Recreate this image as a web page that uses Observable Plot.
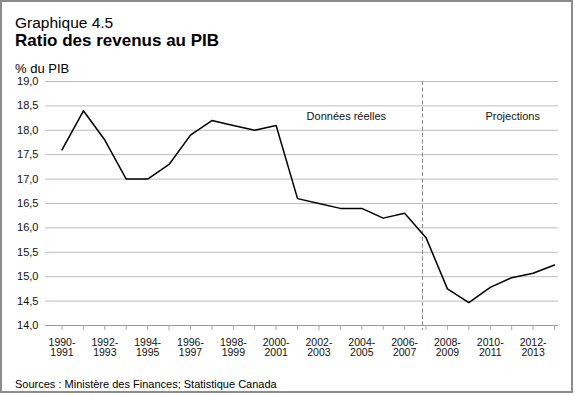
<!DOCTYPE html>
<html>
<head>
<meta charset="utf-8">
<script src="https://cdn.jsdelivr.net/npm/d3@7"></script>
<script src="https://cdn.jsdelivr.net/npm/@observablehq/plot@0.6"></script>
<style>
  html, body { margin: 0; padding: 0; background: #fff; }
  body { position: relative; width: 575px; height: 395px; overflow: hidden;
         font-family: "Liberation Sans", Arial, Helvetica, sans-serif; color: #000; }
  #frame { position: absolute; left: 0; top: 0; width: 573px; height: 393px;
           box-sizing: border-box; border: 2px solid #8c8c8c; }
  .t { position: absolute; white-space: nowrap; line-height: 1; }
  #chart { position: absolute; left: 0; top: 0; }
</style>
</head>
<body>
<div id="frame"></div>
<div class="t" id="kicker" style="left:15px; top:14.6px; font-size:15.5px;">Graphique 4.5</div>
<div class="t" id="title" style="left:15px; top:32.3px; font-size:17px; font-weight:bold;">Ratio des revenus au PIB</div>
<div class="t" id="unit" style="left:15px; top:61.7px; font-size:13px;">% du PIB</div>
<div class="t" id="source" style="left:15px; top:379px; font-size:11px;">Sources : Ministère des Finances; Statistique Canada</div>
<div id="chart"></div>
<script>
const categories = [
  "1990-1991", "1991-1992", "1992-1993", "1993-1994", "1994-1995", "1995-1996",
  "1996-1997", "1997-1998", "1998-1999", "1999-2000", "2000-2001", "2001-2002",
  "2002-2003", "2003-2004", "2004-2005", "2005-2006", "2006-2007", "2007-2008",
  "2008-2009", "2009-2010", "2010-2011", "2011-2012", "2012-2013", "2013-2014"
];
const values = [
  17.6, 18.4, 17.8, 17.0, 17.0, 17.3, 17.9, 18.2, 18.1, 18.0, 18.1, 16.6,
  16.5, 16.4, 16.4, 16.2, 16.3, 15.8, 14.75, 14.47, 14.78, 14.98, 15.07, 15.24
];
const yTicks = [14.0, 14.5, 15.0, 15.5, 16.0, 16.5, 17.0, 17.5, 18.0, 18.5, 19.0];
const labeledCategories = categories.filter((d, i) => i % 2 === 0);
const splitCategory = "2007-2008";
const annotationTexts = ["Données réelles", "Projections"];
const annotationCategories = ["2003-2004", "2011-2012"];
const annotationValues = [18.28, 18.28];

const data = categories.map((c, i) => ({category: c, value: values[i]}));
const annotations = annotationTexts.map((t, i) => ({text: t, category: annotationCategories[i], value: annotationValues[i]}));
const fmtY = d => d.toFixed(1).replace(".", ",");

const chart = Plot.plot({
  width: 575,
  height: 370,
  marginLeft: 45,
  marginRight: 17,
  marginTop: 81,
  marginBottom: 45,
  style: {fontFamily: '"Liberation Sans", Arial, Helvetica, sans-serif', background: "transparent", color: "#000", overflow: "visible"},
  x: {type: "point", domain: categories, range: [61.5, 554], padding: 0, round: false},
  y: {domain: [14, 19]},
  marks: [
    Plot.gridY(yTicks.filter(d => d > 14), {stroke: "#bdbdbd", strokeOpacity: 1}),
    Plot.ruleX([splitCategory], {x: d => d, y1: 19, y2: 14, insetBottom: -5, stroke: "#8a8a8a", strokeDasharray: "4,2.5", dx: -3.5}),
    Plot.ruleY([14], {stroke: "#9a9a9a"}),
    Plot.axisY(yTicks, {tickSize: 0, tickPadding: 7, tickFormat: fmtY, fontSize: 11, label: null, fill: "#111"}),
    Plot.axisX(labeledCategories, {tickSize: 0, tickPadding: 13, fill: "#111", fontSize: 10.5, lineHeight: 0.95,
      tickFormat: d => d.replace("-", "-\n"), label: null}),
    Plot.ruleX(categories, {x: d => d, y1: 14, y2: 14, insetBottom: -5, stroke: "#a8a8a8"}),
    Plot.line(data, {x: "category", y: "value", stroke: "#000", strokeWidth: 1.5}),
    Plot.text([annotations[0]], {x: "category", y: "value", text: "text", fontSize: 11, fill: "#111", dx: 6}),
    Plot.text([annotations[1]], {x: "category", y: "value", text: "text", fontSize: 11, fill: "#111", dx: 1})
  ]
});
document.getElementById("chart").appendChild(chart);
</script>
</body>
</html>
